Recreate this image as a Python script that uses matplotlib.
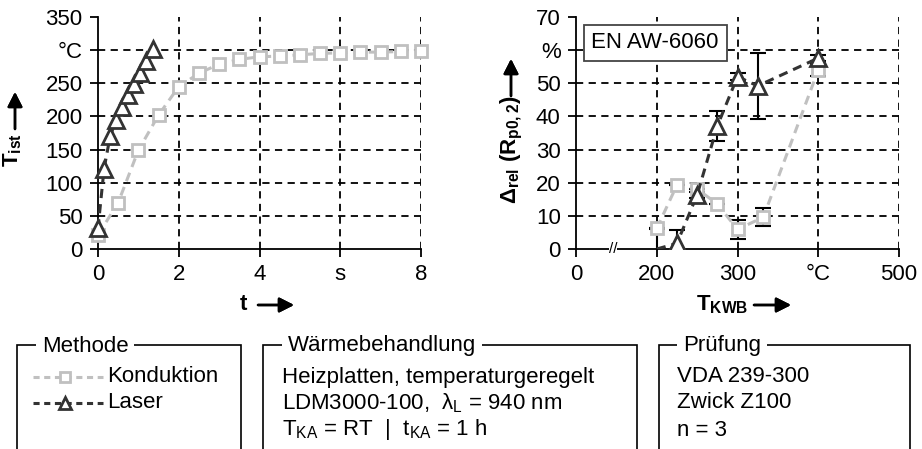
import matplotlib
matplotlib.use("Agg")
import matplotlib.pyplot as plt
from matplotlib.lines import Line2D
from matplotlib.patches import Rectangle

plt.rcParams['font.family'] = ['Liberation Sans', 'DejaVu Sans']
plt.rcParams['mathtext.default'] = 'regular'
plt.rcParams['font.size'] = 16

# --- data: left panel (heating curves) ---
t_kond = [0, 0.5, 1.0, 1.5, 2.0, 2.5, 3.0, 3.5, 4.0, 4.5, 5.0, 5.5, 6.0, 6.5, 7.0, 7.5, 8.0]
T_kond = [21, 70, 149, 202, 245, 265, 279, 286, 290, 291, 293, 295, 296, 297, 297, 298, 299]
t_laser = [0, 0.15, 0.3, 0.45, 0.6, 0.75, 0.9, 1.05, 1.2, 1.35]
T_laser = [31, 121, 170, 195, 214, 232, 249, 266, 284, 301]

# --- data: right panel (relative change of Rp0.2) ---
x_kond = [200, 225, 250, 275, 300, 332, 400]
d_kond = [6.2, 19.3, 18.1, 13.6, 5.9, 9.6, 54.0]
e_kond = [0, 0, 0, 0, 3.0, 2.7, 1.8]
x_laser = [200, 225, 250, 275, 300, 325, 400]
d_laser = [0, 1.7, 16.3, 37.1, 52.0, 49.2, 57.6]
e_laser = [6.0, 4.0, 1.0, 4.5, 1.0, 10.0, 1.0]

left_yticks = [0, 50, 100, 150, 200, 250, 300, 350]
left_ylabels = ['0', '50', '100', '150', '200', '250', '°C', '350']
left_xticks = [0, 2, 4, 6, 8]
left_xlabels = ['0', '2', '4', 's', '8']
right_yticks = [0, 10, 20, 30, 40, 50, 60, 70]
right_ylabels = ['0', '10', '20', '30', '40', '50', '%', '70']
right_xticks = [100, 200, 300, 400, 500]
right_xlabels = ['0', '200', '300', '°C', '500']

GRAY = '#c0c0c0'
DARK = '#333333'
W, H = 922, 449

fig = plt.figure(figsize=(W / 100, H / 100), dpi=100)


def px(x, y):
    return x / W, 1 - y / H


ax1 = fig.add_axes([98 / W, 1 - 249 / H, 323 / W, 232 / H])
ax2 = fig.add_axes([576 / W, 1 - 249 / H, 323 / W, 232 / H])

for ax in (ax1, ax2):
    ax.spines['top'].set_visible(False)
    ax.spines['right'].set_visible(False)
    for s in ('left', 'bottom'):
        ax.spines[s].set_linewidth(1.3)
    ax.tick_params(direction='out', length=6, width=1.3, labelsize=16, pad=5)
    ax.grid(True, color='black', linestyle=(0, (4, 3)), linewidth=1.3)
    ax.set_axisbelow(True)

# left panel
ax1.plot(t_kond, T_kond, color=GRAY, linestyle=(0, (3, 2)), linewidth=2.2,
         marker='s', markersize=9, markerfacecolor='white', markeredgecolor=GRAY,
         markeredgewidth=2, clip_on=False, zorder=3)
ax1.plot(t_laser, T_laser, color=DARK, linestyle=(0, (3, 2)), linewidth=2.2,
         marker='^', markersize=11, markerfacecolor='white', markeredgecolor=DARK,
         markeredgewidth=2, clip_on=False, zorder=4)
ax1.set_xlim(0, 8)
ax1.set_ylim(0, 350)
ax1.set_xticks(left_xticks)
ax1.set_xticklabels(left_xlabels)
ax1.set_yticks(left_yticks)
ax1.set_yticklabels(left_ylabels)
ax1.xaxis.get_gridlines()[0].set_visible(False)
ax1.yaxis.get_gridlines()[0].set_visible(False)
ax1.yaxis.get_gridlines()[-1].set_visible(False)

# right panel
ax2.errorbar(x_kond, d_kond, yerr=e_kond, fmt='none', ecolor='black',
             elinewidth=1.5, capsize=6, capthick=1.5, zorder=2)
ax2.errorbar(x_laser, d_laser, yerr=e_laser, fmt='none', ecolor='black',
             elinewidth=1.5, capsize=6, capthick=1.5, zorder=2)
ax2.plot(x_kond, d_kond, color=GRAY, linestyle=(0, (3, 2)), linewidth=2.2,
         marker='s', markersize=9, markerfacecolor='white', markeredgecolor=GRAY,
         markeredgewidth=2, zorder=3)
ax2.plot(x_laser, d_laser, color=DARK, linestyle=(0, (3, 2)), linewidth=2.2,
         marker='^', markersize=11, markerfacecolor='white', markeredgecolor=DARK,
         markeredgewidth=2, markevery=list(range(1, len(x_laser))), zorder=4)
ax2.set_xlim(100, 500)
ax2.set_ylim(0, 70)
ax2.set_xticks(right_xticks)
ax2.set_xticklabels(right_xlabels)
ax2.set_yticks(right_yticks)
ax2.set_yticklabels(right_ylabels)
ax2.xaxis.get_gridlines()[0].set_visible(False)
ax2.yaxis.get_gridlines()[0].set_visible(False)
ax2.yaxis.get_gridlines()[-1].set_visible(False)
# axis break mark
ax2.text(146, 0, '//', ha='center', va='center', fontsize=11, clip_on=False,
         bbox=dict(facecolor='white', edgecolor='none', pad=0))
ax2.text(0.245, 0.888, 'EN AW-6060', transform=ax2.transAxes, ha='center', va='center',
         fontsize=16, bbox=dict(facecolor='white', edgecolor='#444444', linewidth=1.3,
                                boxstyle='square,pad=0.35'))

# axis labels with arrows
arrow = dict(arrowstyle='-|>,head_length=0.55,head_width=0.28', color='black', lw=1.8,
             shrinkA=0, shrinkB=0)
fig.text(*px(13, 150), r'T$_{ist}$', rotation=90, ha='center', va='center',
         fontsize=16, fontweight='bold')
fig.add_artist(plt.annotate('', xy=px(15, 92), xytext=px(15, 129), xycoords='figure fraction',
                            textcoords='figure fraction', arrowprops=arrow))
fig.text(*px(512, 150), r'$\Delta_{rel}$ (R$_{p0,2}$)', rotation=90, ha='center', va='center',
         fontsize=16, fontweight='bold')
fig.add_artist(plt.annotate('', xy=px(511, 59), xytext=px(511, 96), xycoords='figure fraction',
                            textcoords='figure fraction', arrowprops=arrow))
fig.text(*px(243, 305), 't', ha='center', va='center', fontsize=16, fontweight='bold')
fig.add_artist(plt.annotate('', xy=px(294, 305), xytext=px(258, 305), xycoords='figure fraction',
                            textcoords='figure fraction', arrowprops=arrow))
fig.text(*px(722, 305), r'T$_{KWB}$', ha='center', va='center', fontsize=16, fontweight='bold')
fig.add_artist(plt.annotate('', xy=px(791, 305), xytext=px(754, 305), xycoords='figure fraction',
                            textcoords='figure fraction', arrowprops=arrow))

# bottom info boxes
boxes = [(17, 241, 'Methode', 42), (263, 637, 'Wärmebehandlung', 288), (659, 910, 'Prüfung', 683)]
for x0, x1, title, tx in boxes:
    r = Rectangle(px(x0, 470), (x1 - x0) / W, 125 / H, transform=fig.transFigure,
                  facecolor='none', edgecolor='black', linewidth=1.2)
    fig.add_artist(r)
    fig.text(*px(tx, 346), title, ha='left', va='center', fontsize=16,
             bbox=dict(facecolor='white', edgecolor='none', pad=4))

# legend entries
for y, col, mk, ms, label in [(377, GRAY, 's', 7, 'Konduktion'), (403, DARK, '^', 8, 'Laser')]:
    fig.add_artist(Line2D([33 / W, 103 / W], [1 - y / H] * 2, transform=fig.transFigure,
                          color=col, linestyle=(0, (2, 1.5)), linewidth=2.2))
    fig.add_artist(Line2D([65 / W], [1 - y / H], transform=fig.transFigure, marker=mk,
                          markersize=ms, markerfacecolor='white', markeredgecolor=col,
                          markeredgewidth=2, linestyle='none'))
    fig.text(*px(107, y), label, ha='left', va='center', fontsize=16)

info_mid = ['Heizplatten, temperaturgeregelt',
            r'LDM3000-100,  $\lambda_L$ = 940 nm',
            r'T$_{KA}$ = RT  |  t$_{KA}$ = 1 h']
info_right = ['VDA 239-300', 'Zwick Z100', 'n = 3']
for i, y in enumerate([377, 403, 430]):
    fig.text(*px(282, y), info_mid[i], ha='left', va='center', fontsize=16)
    fig.text(*px(677, y), info_right[i], ha='left', va='center', fontsize=16)

fig.savefig('out.png', dpi=100)
